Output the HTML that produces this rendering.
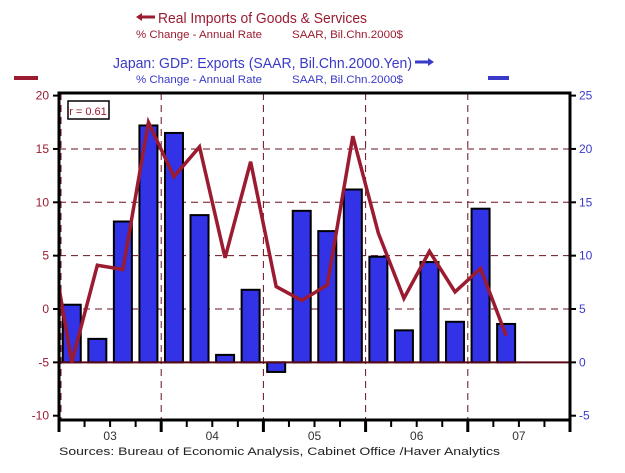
<!DOCTYPE html>
<html><head><meta charset="utf-8"><style>
body{margin:0;background:#fff;width:625px;height:468px;overflow:hidden}
svg text{font-family:"Liberation Sans",sans-serif}
</style></head><body>
<svg id="chart" width="625" height="468">
<defs><clipPath id="pc"><rect x="59" y="93" width="511" height="327"/></clipPath></defs>
<g>
<text x="158" y="23" font-size="15" fill="#9b1b30" textLength="209" lengthAdjust="spacingAndGlyphs">Real Imports of Goods &amp; Services</text>
<path d="M140,17 L155,17" stroke="#9b1b30" stroke-width="3"/>
<path d="M136,17 L142,13 L142,21 Z" fill="#9b1b30"/>
<text x="136" y="38" font-size="11" fill="#9b1b30" textLength="126" lengthAdjust="spacingAndGlyphs">% Change - Annual Rate</text>
<text x="292" y="38" font-size="11" fill="#9b1b30" textLength="111" lengthAdjust="spacingAndGlyphs">SAAR, Bil.Chn.2000$</text>
<text x="113" y="68" font-size="15" fill="#3a3ac8" textLength="299" lengthAdjust="spacingAndGlyphs">Japan: GDP: Exports (SAAR, Bil.Chn.2000.Yen)</text>
<path d="M415,62 L429,62" stroke="#3a3ac8" stroke-width="3"/>
<path d="M434,62 L428,58 L428,66 Z" fill="#3a3ac8"/>
<text x="136" y="83" font-size="11" fill="#3a3ac8" textLength="126" lengthAdjust="spacingAndGlyphs">% Change - Annual Rate</text>
<text x="292" y="83" font-size="11" fill="#3a3ac8" textLength="111" lengthAdjust="spacingAndGlyphs">SAAR, Bil.Chn.2000$</text>
<line x1="14" y1="78" x2="38" y2="78" stroke="#9b1b30" stroke-width="4"/>
<line x1="488" y1="78" x2="509" y2="78" stroke="#3a3ac8" stroke-width="4"/>
</g>
<g id="grid"></g><g id="bars"></g><g id="line" clip-path="url(#pc)"></g><g id="axes"></g>
<rect x="68" y="101" width="41" height="18" fill="#fff" stroke="#000" stroke-width="1.5"/>
<text x="88" y="115" font-size="11" fill="#9b1b30" text-anchor="middle">r = 0.61</text>
<text x="59" y="455" font-size="11" fill="#222" textLength="441" lengthAdjust="spacingAndGlyphs">Sources:  Bureau of Economic Analysis, Cabinet Office /Haver Analytics</text>
</svg>
<script>
const leftTicks=[20,15,10,5,0,-5,-10];
const rightTicks=[25,20,15,10,5,0,-5];
const yearLabels=['03','04','05','06','07'];
const exportsVals=[5.4,2.2,13.2,22.2,21.5,13.8,0.7,6.8,-0.9,14.2,12.3,16.2,9.9,3.0,9.4,3.8,14.4,3.6];
const importsPrev=9.0;
const importsVals=[-5.0,4.1,3.7,17.5,12.4,15.2,4.8,13.8,2.1,0.8,2.25,16.2,7.1,1.0,5.4,1.6,3.8,-2.5];
const NS='http://www.w3.org/2000/svg';
const X0=59,X1=570,Y0=93,Y1=420,qW=(X1-X0)/20;
const yL=v=>309-v*10.67;
const yR=v=>yL(v-5);
const xQ=i=>X0+qW*(i+0.5);
function mk(p,t,a){const e=document.createElementNS(NS,t);for(const k in a)e.setAttribute(k,a[k]);document.getElementById(p).appendChild(e);return e;}
[15,10,5,0].forEach(v=>{const e=mk('grid','line',{x1:X0,x2:X1,y1:yL(v),y2:yL(v),stroke:'#6b0f1f','stroke-dasharray':'7,5','stroke-width':1});

});
yearLabels.forEach((y,i)=>{if(i===0)return;const x=X0+i*4*qW;const e=mk('grid','line',{x1:x,x2:x,y1:Y0,y2:Y1,stroke:'#6b0f1f','stroke-dasharray':'7,5','stroke-width':1});

});
mk('grid','line',{x1:X0+2,x2:X0+2,y1:Y0,y2:Y1,stroke:'#6b0f1f','stroke-dasharray':'7,5'});
exportsVals.forEach((v,i)=>{const y=Math.min(yR(v),yR(0)),h=Math.abs(yR(v)-yR(0));
const e=mk('bars','rect',{x:xQ(i)-9,y:y,width:18,height:h,fill:'#3232e6',stroke:'#000','stroke-width':2});

});
mk('bars','line',{x1:X0,x2:X1,y1:yL(-5),y2:yL(-5),stroke:'#5a0a16','stroke-width':2});
const pts=[[xQ(-1),yL(importsPrev)]].concat(importsVals.map((v,i)=>[xQ(i),yL(v)]));
const pl=mk('line','polyline',{points:pts.map(p=>p.join(',')).join(' '),fill:'none',stroke:'#9b1b30','stroke-width':3.5,'stroke-linejoin':'miter'});


mk('axes','rect',{x:X0,y:Y0,width:X1-X0,height:Y1-Y0,fill:'none',stroke:'#000','stroke-width':3});
leftTicks.forEach(v=>{mk('axes','line',{x1:X0-6,x2:X0,y1:yL(v),y2:yL(v),stroke:'#000','stroke-width':2});
const t=mk('axes','text',{x:X0-10,y:yL(v)+4,'font-size':12,fill:'#9b1b30','text-anchor':'end'});t.textContent=v;

});
rightTicks.forEach(v=>{mk('axes','line',{x1:X1,x2:X1+6,y1:yR(v),y2:yR(v),stroke:'#000','stroke-width':2});
const t=mk('axes','text',{x:X1+9,y:yR(v)+4,'font-size':12,fill:'#3a3ac8'});t.textContent=v;

});
for(let q=0;q<=20;q++){const x=X0+q*qW;mk('axes','line',{x1:x,x2:x,y1:Y1,y2:Y1+(q%4===0?12:7),stroke:'#000','stroke-width':q%4===0?3:2});}
yearLabels.forEach((y,i)=>{const t=mk('axes','text',{x:X0+(i*4+2)*qW,y:Y1+20,'font-size':12,fill:'#333','text-anchor':'middle'});t.textContent=y;

});
</script>
</body></html>
